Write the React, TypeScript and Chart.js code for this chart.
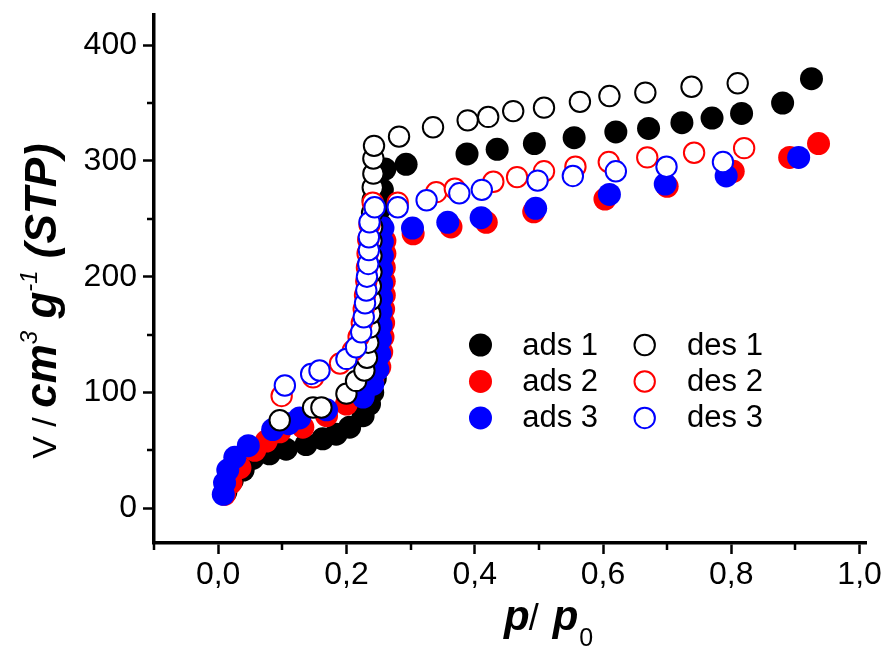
import React, { useEffect, useRef } from "react";
import { Chart, registerables } from "chart.js";
Chart.register(...registerables);

const FONT = '"Liberation Sans", Arial, Helvetica, sans-serif';

// ---------- data (p/p0 and V in cm3 g-1 STP) ----------
const ads1P = [0.012, 0.022, 0.039, 0.054, 0.080, 0.106, 0.137, 0.163, 0.184, 0.205, 0.226, 0.236, 0.241, 0.245, 0.247, 0.248, 0.249, 0.250, 0.250, 0.251, 0.251, 0.252, 0.253, 0.254, 0.256, 0.260, 0.293, 0.388, 0.435, 0.493, 0.555, 0.620, 0.671, 0.723, 0.770, 0.816, 0.880, 0.925];
const ads1V = [14, 24, 33, 43, 47, 51, 55, 60, 64, 70, 80, 90, 100, 112, 125, 140, 155, 170, 185, 200, 215, 230, 245, 260, 275, 293, 297, 306, 310, 315, 320, 325, 328, 333, 337, 341, 350, 371];

const ads2P = [0.010, 0.020, 0.034, 0.057, 0.075, 0.096, 0.132, 0.169, 0.200, 0.226, 0.241, 0.252, 0.255, 0.257, 0.258, 0.258, 0.259, 0.259, 0.259, 0.260, 0.260, 0.304, 0.363, 0.418, 0.492, 0.603, 0.700, 0.803, 0.891, 0.936];
const ads2V = [12, 22, 35, 50, 58, 66, 70, 80, 90, 99, 110, 122, 135, 148, 160, 172, 184, 196, 208, 220, 231, 237, 243, 247, 256, 267, 278, 291, 303, 315];

const ads3P = [0.008, 0.010, 0.015, 0.026, 0.047, 0.085, 0.110, 0.127, 0.169, 0.226, 0.241, 0.249, 0.252, 0.253, 0.254, 0.254, 0.255, 0.255, 0.255, 0.256, 0.256, 0.257, 0.303, 0.358, 0.410, 0.495, 0.610, 0.697, 0.792, 0.905];
const ads3V = [12, 22, 33, 44, 54, 68, 73, 78, 85, 96, 107, 120, 133, 146, 158, 170, 182, 194, 206, 218, 230, 242, 242, 247, 251, 259, 271, 280, 287, 303];

const des1P = [0.096, 0.148, 0.161, 0.200, 0.215, 0.228, 0.232, 0.234, 0.236, 0.237, 0.238, 0.238, 0.239, 0.239, 0.239, 0.240, 0.240, 0.241, 0.241, 0.242, 0.242, 0.243, 0.282, 0.335, 0.389, 0.421, 0.460, 0.508, 0.564, 0.610, 0.666, 0.738, 0.810];
const des1V = [76, 87, 87, 99, 110, 119, 130, 143, 156, 168, 180, 192, 204, 218, 231, 243, 255, 266, 277, 289, 302, 313, 321, 329, 335, 338, 343, 346, 351, 356, 359, 364, 367];

const des2P = [0.099, 0.148, 0.190, 0.210, 0.219, 0.224, 0.227, 0.229, 0.231, 0.232, 0.233, 0.234, 0.236, 0.241, 0.280, 0.340, 0.369, 0.429, 0.466, 0.508, 0.557, 0.609, 0.669, 0.742, 0.820];
const des2V = [97, 113, 125, 136, 148, 160, 172, 184, 196, 208, 220, 232, 245, 264, 264, 273, 276, 282, 286, 291, 295, 299, 303, 307, 311];

const des3P = [0.104, 0.145, 0.158, 0.200, 0.215, 0.223, 0.227, 0.229, 0.231, 0.232, 0.234, 0.235, 0.235, 0.236, 0.244, 0.280, 0.325, 0.376, 0.411, 0.498, 0.553, 0.620, 0.699, 0.787];
const des3V = [106, 116, 119, 129, 139, 152, 165, 177, 188, 200, 211, 223, 234, 247, 260, 260, 266, 272, 275, 283, 287, 291, 295, 299];

const seriesLabels = ["ads 1", "ads 2", "ads 3", "des 1", "des 2", "des 3"];
const seriesColors = ["#000000", "#ff0000", "#0000ff", "#000000", "#ff0000", "#0000ff"];

const xMajorTicks = [0, 0.2, 0.4, 0.6, 0.8, 1.0];
const xTickLabels = ["0,0", "0,2", "0,4", "0,6", "0,8", "1,0"];
const xMinorTicks = [-0.1, 0.1, 0.3, 0.5, 0.7, 0.9];
const yMajorTicks = [0, 100, 200, 300, 400];
const yTickLabels = ["0", "100", "200", "300", "400"];
const yMinorTicks = [50, 150, 250, 350];

export default function App() {
  const ref = useRef<HTMLCanvasElement | null>(null);

  useEffect(() => {
    document.body.style.margin = "0";
    const canvas = ref.current;
    if (!canvas) return;

    const mk = (i: number, p: number[], v: number[], filled: boolean, order: number) => ({
      label: seriesLabels[i],
      data: p.map((x, k) => ({ x, y: v[k] })),
      backgroundColor: filled ? seriesColors[i] : "#ffffff",
      borderColor: seriesColors[i],
      borderWidth: filled ? 0 : 2,
      pointRadius: filled ? 11.5 : 10.2,
      pointHoverRadius: filled ? 11.5 : 10.2,
      showLine: false,
      order,
    });

    const decor = {
      id: "decor",
      afterDraw(chart: any) {
        const ctx = chart.ctx as CanvasRenderingContext2D;
        const xs = chart.scales.x;
        const ys = chart.scales.y;
        const area = chart.chartArea;
        ctx.save();
        // minor ticks
        ctx.strokeStyle = "#000";
        ctx.lineWidth = 2.5;
        ctx.beginPath();
        xMinorTicks.forEach((v) => {
          const px = Math.round(xs.getPixelForValue(v));
          ctx.moveTo(px, area.bottom);
          ctx.lineTo(px, area.bottom + 7);
        });
        yMinorTicks.forEach((v) => {
          const py = Math.round(ys.getPixelForValue(v));
          ctx.moveTo(area.left - 7, py);
          ctx.lineTo(area.left, py);
        });
        ctx.stroke();

        // legend
        const rowsY = [ys.getPixelForValue(141), ys.getPixelForValue(109.5), ys.getPixelForValue(78)];
        const colMarkerX = [xs.getPixelForValue(0.409), xs.getPixelForValue(0.665)];
        const colTextX = [xs.getPixelForValue(0.474), xs.getPixelForValue(0.731)];
        ctx.font = `31px ${FONT}`;
        ctx.textBaseline = "middle";
        ctx.textAlign = "left";
        for (let c = 0; c < 2; c++) {
          for (let r = 0; r < 3; r++) {
            const idx = c * 3 + r;
            const y = rowsY[r];
            ctx.beginPath();
            ctx.arc(colMarkerX[c], y, c === 0 ? 11.5 : 10.2, 0, Math.PI * 2);
            if (c === 0) {
              ctx.fillStyle = seriesColors[idx];
              ctx.fill();
            } else {
              ctx.fillStyle = "#fff";
              ctx.fill();
              ctx.lineWidth = 2;
              ctx.strokeStyle = seriesColors[idx];
              ctx.stroke();
            }
            ctx.fillStyle = "#000";
            ctx.fillText(seriesLabels[idx], colTextX[c], y + 1);
          }
        }

        // x title  p/ p0
        ctx.textBaseline = "alphabetic";
        const bx = 504;
        const by = 630;
        ctx.font = `bold italic 42px ${FONT}`;
        ctx.fillText("p", bx, by);
        let w = ctx.measureText("p").width;
        ctx.font = `36px ${FONT}`;
        ctx.fillText("/", bx + w - 1, by);
        w += ctx.measureText("/ ").width + 3;
        ctx.font = `bold italic 42px ${FONT}`;
        ctx.fillText("p", bx + w, by);
        w += ctx.measureText("p").width + 1;
        ctx.font = `25px ${FONT}`;
        ctx.fillText("0", bx + w, by + 16);

        // y title rotated
        ctx.save();
        ctx.translate(56, 301);
        ctx.rotate(-Math.PI / 2);
        const segs = [
          { t: "V / ", f: `34px ${FONT}`, dy: 0 },
          { t: "cm", f: `bold italic 44px ${FONT}`, dy: 0 },
          { t: "3", f: `italic 24px ${FONT}`, dy: -19 },
          { t: " g", f: `bold italic 44px ${FONT}`, dy: 0 },
          { t: "-1", f: `italic 24px ${FONT}`, dy: -19 },
          { t: " (STP)", f: `bold italic 44px ${FONT}`, dy: 0 },
        ];
        let total = 0;
        segs.forEach((s) => {
          ctx.font = s.f;
          total += ctx.measureText(s.t).width;
        });
        let cx = -total / 2;
        segs.forEach((s) => {
          ctx.font = s.f;
          ctx.fillText(s.t, cx, s.dy);
          cx += ctx.measureText(s.t).width;
        });
        ctx.restore();
        ctx.restore();
      },
    };

    const chart = new Chart(canvas, {
      type: "scatter",
      data: {
        datasets: [
          mk(0, ads1P, ads1V, true, 6),
          mk(1, ads2P, ads2V, true, 5),
          mk(2, ads3P, ads3V, true, 4),
          mk(3, des1P, des1V, false, 3),
          mk(4, des2P, des2V, false, 2),
          mk(5, des3P, des3V, false, 1),
        ] as any,
      },
      options: {
        animation: false,
        responsive: false,
        events: [],
        layout: { padding: { left: 0, top: 15, right: 18, bottom: 0 } },
        plugins: { legend: { display: false }, tooltip: { enabled: false } },
        scales: {
          x: {
            type: "linear",
            min: -0.1,
            max: 1.01,
            border: { display: true, color: "#000", width: 3.5 },
            grid: { drawOnChartArea: false, drawTicks: true, tickLength: 11, tickWidth: 2.5, tickColor: "#000", color: "#000" },
            ticks: {
              color: "#000",
              font: { family: FONT, size: 32 },
              padding: 2,
              callback: (v: any) => {
                const i = xMajorTicks.findIndex((t) => Math.abs(t - Number(v)) < 1e-6);
                return i >= 0 ? xTickLabels[i] : "";
              },
            },
            afterBuildTicks: (s: any) => {
              s.ticks = xMajorTicks.map((v) => ({ value: v }));
            },
            afterFit: (s: any) => {
              s.height = 105;
              s.paddingLeft = 0;
              s.paddingRight = 0;
            },
          },
          y: {
            type: "linear",
            min: -30,
            max: 426,
            border: { display: true, color: "#000", width: 3.5 },
            grid: { drawOnChartArea: false, drawTicks: true, tickLength: 11, tickWidth: 2.5, tickColor: "#000", color: "#000" },
            ticks: {
              color: "#000",
              font: { family: FONT, size: 32 },
              padding: 6,
              callback: (v: any) => {
                const i = yMajorTicks.findIndex((t) => Math.abs(t - Number(v)) < 1e-6);
                return i >= 0 ? yTickLabels[i] : "";
              },
            },
            afterBuildTicks: (s: any) => {
              s.ticks = yMajorTicks.map((v) => ({ value: v }));
            },
            afterFit: (s: any) => {
              s.width = 154;
              s.paddingTop = 0;
              s.paddingBottom = 0;
            },
          },
        },
      },
      plugins: [decor],
    });
    return () => chart.destroy();
  }, []);

  return (
    <div style={{ position: "absolute", left: 0, top: 0, width: 884, height: 648, background: "#fff" }}>
      <canvas ref={ref} width={884} height={648} style={{ display: "block" }} />
    </div>
  );
}
